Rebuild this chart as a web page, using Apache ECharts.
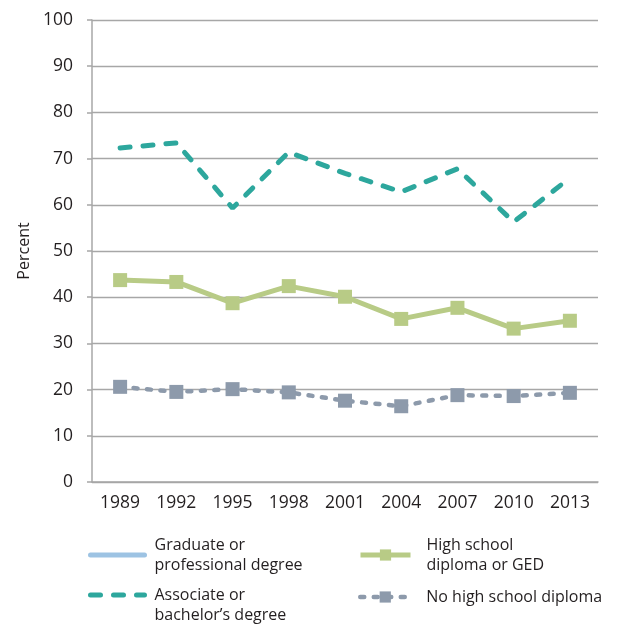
<!DOCTYPE html>
<html><head><meta charset="utf-8">
<script src="https://cdn.jsdelivr.net/npm/echarts@6/dist/echarts.min.js"></script>
<style>html,body{margin:0;padding:0;background:#fff}#c{width:620px;height:625px}</style>
</head><body><div id="c"></div>
<script>
const years = ['1989','1992','1995','1998','2001','2004','2007','2010','2013'];
const graduate = [null,null,null,null,null,null,null,null,null];
const associate = [72.3,73.4,59.3,71.4,66.8,62.8,67.8,56.3,65.8];
const highSchool = [43.7,43.3,38.7,42.4,40.1,35.3,37.7,33.2,34.9];
const noHighSchool = [20.6,19.5,20.1,19.4,17.6,16.4,18.8,18.6,19.3];
const yTicks = {min:0, max:100, interval:10};

const FONT = '"Open Sans", sans-serif';
const names = ['Graduate or professional degree','Associate or bachelor\u2019s degree','High school diploma or GED','No high school diploma'];
const labels = {};
labels[names[0]] = 'Graduate or\nprofessional degree';
labels[names[1]] = '\nAssociate or\nbachelor\u2019s degree';
labels[names[2]] = 'High school\ndiploma or GED';
labels[names[3]] = 'No high school diploma';

function leg(name, left, top, w, pad, lw, hideSym){
  const o = {data:[name], left:left, top:top, padding:0, itemWidth:w, itemHeight:14,
    formatter: n => labels[n],
    lineStyle:{width:lw},
    textStyle:{fontFamily:FONT, fontSize:16, color:'#231f20', lineHeight:20, padding:pad}};
  if (hideSym) o.itemStyle = {opacity:0};
  return o;
}

const chart = echarts.init(document.getElementById('c'));
chart.setOption({
  animation:false,
  grid:{left:92, right:22, top:20, bottom:143},
  xAxis:{type:'category', data:years, boundaryGap:true,
    axisLine:{lineStyle:{color:'#a7a7a7', width:1.5}},
    axisTick:{length:6, lineStyle:{color:'#a7a7a7', width:1.5}},
    axisLabel:{fontFamily:FONT, fontSize:17.5, color:'#231f20', margin:12}},
  yAxis:{type:'value', min:yTicks.min, max:yTicks.max, interval:yTicks.interval,
    name:'Percent', nameLocation:'middle', nameGap:56,
    nameTextStyle:{fontFamily:FONT, fontSize:16, color:'#231f20'},
    axisLine:{show:true, lineStyle:{color:'#a7a7a7', width:1.5}},
    axisTick:{show:true, length:5, lineStyle:{color:'#a7a7a7', width:1.5}},
    splitLine:{lineStyle:{color:'#a7a7a7', width:1.3}},
    axisLabel:{fontFamily:FONT, fontSize:17.5, color:'#231f20', margin:19}},
  legend:[
    leg(names[0], 88, 535, 54, [0,0,0,5], 5, true),
    leg(names[1], 88, 565, 54, [0,0,0,5], 5, true),
    leg(names[2], 358, 535, 50, [0,0,0,11], 5, false),
    leg(names[3], 358, 587, 50, [0,0,0,11], 4.5, false)
  ],
  series:[
    {name:names[0], type:'line', data:graduate, symbol:'none',
      lineStyle:{color:'#9dc3e3', width:5, cap:'round'}, itemStyle:{color:'#9dc3e3'}},
    {name:names[1], type:'line', data:associate, symbol:'none',
      lineStyle:{color:'#2da79d', width:5, type:[10,13], cap:'round'}, itemStyle:{color:'#2da79d'}},
    {name:names[2], type:'line', data:highSchool, symbol:'rect', symbolSize:14,
      lineStyle:{color:'#b8cb86', width:5}, itemStyle:{color:'#b8cb86'}},
    {name:names[3], type:'line', data:noHighSchool, symbol:'rect', symbolSize:14,
      lineStyle:{color:'#8d9aab', width:4.5, type:[4,9.5], cap:'round'}, itemStyle:{color:'#8d9aab'}}
  ]
});
</script></body></html>
